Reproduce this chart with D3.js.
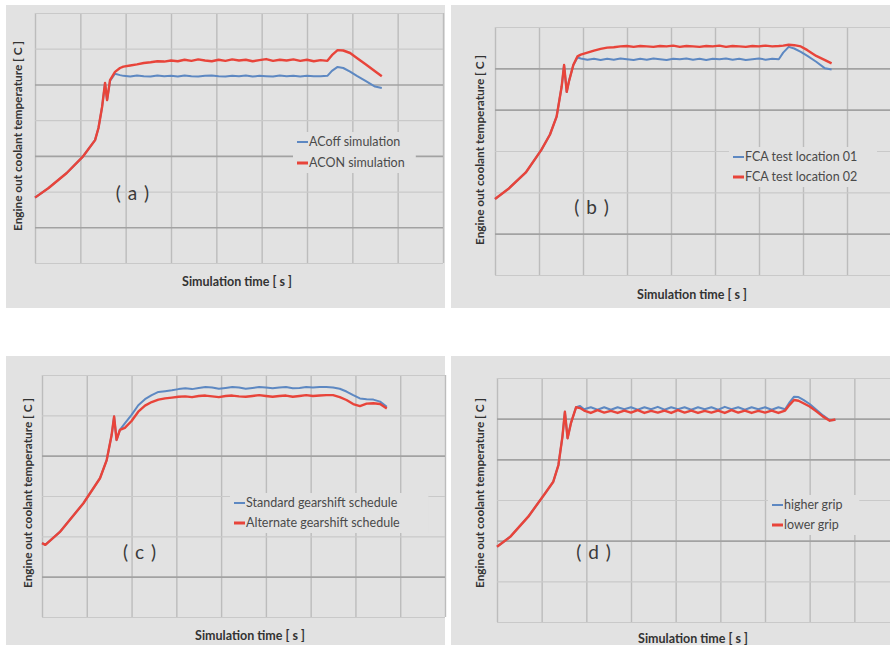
<!DOCTYPE html>
<html>
<head>
<meta charset="utf-8">
<script src="https://cdn.jsdelivr.net/npm/d3@7"></script>
<style>
  body { margin: 0; background: #fff; }
  svg { display: block; font-family: Lato, "Open Sans", sans-serif; }
</style>
</head>
<body>
<svg id="chart"></svg>
<script>
// time axis values [s], one array per panel
const timeA = [0, 60, 140, 210, 265, 280, 296, 309, 318, 331, 353, 375,
  390, 420, 450, 480, 510, 540, 570, 600, 630, 660, 690, 720, 750, 780, 810, 840,
  870, 900, 930, 960, 990, 1020, 1050, 1080, 1110, 1140, 1170, 1200, 1230, 1260, 1290,
  1310, 1335, 1360, 1390, 1420, 1460, 1500, 1530];
const acOff = [48.3, 51.0, 55.2, 59.7, 64.4, 67.8, 73.7, 80.4, 75.6, 81.0, 83.0, 82.6,
  82.4, 82.2, 82.5, 82.3, 82.2, 82.5, 82.3, 82.4, 82.2, 82.5, 82.3, 82.2, 82.4, 82.5, 82.3, 82.2,
  82.4, 82.3, 82.5, 82.2, 82.4, 82.3, 82.2, 82.5, 82.3, 82.4, 82.2, 82.4, 82.3, 82.3, 82.4,
  83.8, 84.9, 84.6, 83.6, 82.4, 80.9, 79.4, 79.0];
const acOn = [48.3, 51.0, 55.2, 59.7, 64.4, 67.8, 73.7, 80.4, 75.6, 81.2, 83.5, 84.6,
  85.0, 85.3, 85.6, 86.0, 86.2, 86.5, 86.4, 86.7, 86.5, 86.9, 86.6, 87.0, 86.7, 86.5, 86.9, 86.6,
  87.0, 86.7, 86.9, 86.5, 86.8, 87.1, 86.6, 86.9, 86.7, 87.0, 86.6, 86.9, 86.5, 86.8, 86.6,
  88.2, 89.6, 89.5, 88.8, 87.4, 85.6, 83.7, 82.3];

const timeB = [0, 60, 140, 210, 250, 280, 303, 314, 326, 336, 356, 375,
  390, 420, 450, 480, 510, 540, 570, 600, 630, 660, 690, 720, 750, 780, 810, 840,
  870, 900, 930, 960, 990, 1020, 1050, 1080, 1110, 1140, 1170, 1200, 1230, 1260, 1290,
  1310, 1335, 1360, 1390, 1420, 1460, 1500, 1530];
const fcaLoc01 = [58.4, 60.8, 64.8, 70.2, 74.0, 78.3, 85.6, 90.8, 84.3, 86.8, 90.8, 92.6,
  92.4, 92.1, 92.3, 92.0, 92.3, 92.1, 92.4, 92.2, 92.0, 92.3, 92.1, 92.4, 92.2, 92.0, 92.3, 92.2,
  92.4, 92.1, 92.3, 92.0, 92.3, 92.2, 92.4, 92.1, 92.3, 92.0, 92.2, 92.4, 92.1, 92.3, 92.2,
  93.8, 95.2, 94.8, 94.0, 93.0, 91.6, 90.0, 89.7];
const fcaLoc02 = [58.4, 60.8, 64.8, 70.2, 74.0, 78.3, 85.6, 90.8, 84.3, 86.8, 90.8, 92.9,
  93.3, 93.8, 94.3, 94.7, 95.0, 95.1, 95.3, 95.4, 95.2, 95.4, 95.3, 95.2, 95.4, 95.3, 95.5, 95.2,
  95.4, 95.3, 95.2, 95.4, 95.3, 95.5, 95.2, 95.4, 95.3, 95.2, 95.4, 95.3, 95.5, 95.3, 95.4,
  95.5, 95.7, 95.6, 95.3, 94.4, 93.0, 92.0, 91.2];

const timeC = [0, 15, 80, 185, 259, 289, 311, 322, 333, 348, 370,
  400, 430, 460, 490, 520, 550, 580, 610, 640, 670, 700, 730, 760, 790, 820, 850,
  880, 910, 940, 970, 1000, 1030, 1060, 1090, 1120, 1150, 1180, 1210, 1240, 1270, 1300,
  1330, 1360, 1390, 1420, 1450, 1480, 1510, 1540];
const stdShift = [58.3, 57.9, 61.1, 68.2, 74.4, 78.9, 85.1, 89.7, 83.9, 86.4, 88.0,
  90.1, 92.5, 94.0, 95.0, 95.8, 96.0, 96.2, 96.5, 96.7, 96.5, 96.8, 97.0, 96.9, 96.6, 96.8, 97.0,
  96.9, 96.6, 96.8, 97.0, 96.9, 96.7, 96.9, 97.0, 96.7, 96.8, 97.0, 96.9, 97.0, 97.0, 96.9,
  96.6, 95.9, 95.0, 94.2, 94.0, 93.9, 93.4, 92.1];
const altShift = [58.3, 57.9, 61.1, 68.2, 74.4, 78.9, 85.1, 89.7, 83.9, 86.4, 86.9,
  88.6, 90.9, 92.4, 93.3, 93.9, 94.2, 94.4, 94.6, 94.7, 94.5, 94.8, 94.9, 94.7, 94.5, 94.8, 94.9,
  94.7, 94.6, 94.8, 95.0, 94.8, 94.6, 94.8, 94.9, 94.6, 94.8, 95.0, 94.8, 94.9, 95.0, 95.0,
  94.5, 93.8, 92.8, 92.3, 92.9, 93.0, 92.8, 91.7];

const timeD = [0, 60, 140, 215, 252, 275, 293, 304, 316, 331, 354, 372,
  390, 420, 450, 480, 510, 540, 570, 600, 630, 660, 690, 720, 750, 780, 810, 840,
  870, 900, 930, 960, 990, 1020, 1050, 1080, 1110, 1140, 1170, 1200, 1230, 1260, 1290,
  1310, 1330, 1350, 1372, 1400, 1430, 1460, 1490, 1515];
const higherGrip = [58.5, 61.0, 65.9, 71.6, 74.5, 78.6, 85.6, 91.7, 85.2, 88.9, 92.8, 93.1,
  92.3, 92.8, 92.2, 92.8, 92.2, 92.8, 92.3, 92.8, 92.2, 92.8, 92.3, 92.9, 92.2, 92.8, 92.3, 92.8,
  92.2, 92.8, 92.3, 92.8, 92.2, 92.9, 92.3, 92.8, 92.2, 92.8, 92.3, 92.8, 92.2, 92.8, 92.3,
  94.0, 95.4, 95.3, 94.6, 93.6, 92.2, 90.8, 89.6, 89.7];
const lowerGrip = [58.5, 61.0, 65.9, 71.6, 74.5, 78.6, 85.6, 91.7, 85.2, 88.9, 92.8, 92.6,
  92.0, 91.4, 92.1, 91.5, 91.9, 91.4, 92.0, 91.5, 92.1, 91.4, 91.9, 91.5, 92.0, 91.4, 92.1, 91.5,
  92.0, 91.4, 91.9, 91.5, 92.0, 91.4, 92.1, 91.5, 92.0, 91.4, 91.9, 91.5, 92.0, 91.4, 92.0,
  93.4, 94.6, 94.4, 93.8, 93.0, 91.8, 90.5, 89.5, 89.8];

const xTicks = [0, 200, 400, 600, 800, 1000, 1200, 1400, 1600, 1800];
const panelLabels = ["( a )", "( b )", "( c )", "( d )"];
const legendA = ["ACoff simulation", "ACON simulation"];
const legendB = ["FCA test location 01", "FCA test location 02"];
const legendC = ["Standard gearshift schedule", "Alternate gearshift schedule"];
const legendD = ["higher grip", "lower grip"];
const yLabelText = "Engine  out coolant temperature [ C ]";
const xLabelText = "Simulation time [ s ]";

const colors = ["#5d88c2", "#e8443a"];
const W = 890, H = 645;

const svg = d3.select("#chart").attr("width", W).attr("height", H);

const panels = [
  { bg: [6, 5, 439, 303], left: 35, right: 443, top: 13, bottom: 263,
    yDomain: [30, 100], yTicks: [30, 40, 50, 60, 70, 80, 90, 100], yMajor: [80, 60, 40],
    time: timeA, series: [acOff, acOn], legend: legendA, label: panelLabels[0],
    yLab: [18, 136], xLab: [237, 286], pLab: [133, 200], leg: [297, 142, 21] },
  { bg: [451, 5, 439, 303], left: 495, right: 891, top: 27, bottom: 275,
    yDomain: [40, 100], yTicks: [40, 50, 60, 70, 80, 90, 100], yMajor: [90, 80, 50],
    time: timeB, series: [fcaLoc01, fcaLoc02], legend: legendB, label: panelLabels[1],
    yLab: [480, 150], xLab: [692, 299], pLab: [592, 214], leg: [733, 157, 20] },
  { bg: [6, 356, 439, 289], left: 42, right: 445, top: 375, bottom: 617,
    yDomain: [40, 100], yTicks: [40, 50, 60, 70, 80, 90, 100], yMajor: [80, 50],
    time: timeC, series: [stdShift, altShift], legend: legendC, label: panelLabels[2],
    yLab: [28, 493], xLab: [250, 640], pLab: [140, 559], leg: [234, 503, 20] },
  { bg: [451, 356, 439, 289], left: 497, right: 899, top: 378, bottom: 622,
    yDomain: [40, 100], yTicks: [40, 50, 60, 70, 80, 90, 100], yMajor: [90, 80, 60],
    time: timeD, series: [higherGrip, lowerGrip], legend: legendD, label: panelLabels[3],
    yLab: [480, 493], xLab: [693, 643], pLab: [594, 559], leg: [772, 505, 20] }
];

panels.forEach((p) => drawPanel(p));

function drawPanel(p) {
  const g = svg.append("g");

  g.append("rect")
    .attr("x", p.bg[0]).attr("y", p.bg[1])
    .attr("width", p.bg[2]).attr("height", p.bg[3])
    .attr("fill", "#e2e2e2");

  const x = d3.scaleLinear().domain([0, 1800]).range([p.left, p.right]);
  const y = d3.scaleLinear().domain(p.yDomain).range([p.bottom, p.top]);

  // vertical grid
  g.append("g")
    .attr("transform", `translate(0,${p.bottom})`)
    .call(d3.axisBottom(x).tickValues(xTicks).tickSize(-(p.bottom - p.top)).tickFormat(""))
    .call((a) => a.select(".domain").remove())
    .call((a) => a.selectAll("line").attr("stroke", "#bcbcbc").attr("stroke-width", 1.4));

  // horizontal grid
  g.append("g")
    .attr("transform", `translate(${p.left},0)`)
    .call(d3.axisLeft(y).tickValues(p.yTicks).tickSize(-(p.right - p.left)).tickFormat(""))
    .call((a) => a.select(".domain").remove())
    .call((a) => a.selectAll("line")
      .attr("stroke", (d) => (p.yMajor.includes(d) ? "#a2a2a2" : "#c9c9c9"))
      .attr("stroke-width", (d) => (p.yMajor.includes(d) ? 1.6 : 1.2)));

  // legend box hides the grid behind it
  g.append("rect")
    .attr("x", p.leg[0] - 4).attr("y", p.leg[1] - 10)
    .attr("width", d3.max(p.legend, (s) => s.length) * 6.3 + 22)
    .attr("height", p.leg[2] + 20)
    .attr("fill", "#e2e2e2");

  const line = d3.line()
    .x((d, i) => x(p.time[i]))
    .y((d) => y(d));

  p.series.forEach((s, i) => {
    g.append("path")
      .datum(s)
      .attr("d", line)
      .attr("fill", "none")
      .attr("stroke", colors[i])
      .attr("stroke-width", i === 1 ? 2.4 : 2)
      .attr("stroke-linejoin", "round");
  });

  // legend
  p.legend.forEach((name, i) => {
    const ly = p.leg[1] + i * p.leg[2];
    g.append("line")
      .attr("x1", p.leg[0]).attr("x2", p.leg[0] + 11)
      .attr("y1", ly).attr("y2", ly)
      .attr("stroke", colors[i])
      .attr("stroke-width", i === 1 ? 3 : 2);
    g.append("text")
      .attr("x", p.leg[0] + 12).attr("y", ly + 4)
      .attr("font-size", "12.5px")
      .attr("fill", "#4a4a4a")
      .text(name);
  });

  g.append("text")
    .attr("x", p.pLab[0]).attr("y", p.pLab[1])
    .attr("text-anchor", "middle")
    .attr("font-size", "19px")
    .attr("letter-spacing", "1px")
    .attr("fill", "#3a3a3a")
    .text(p.label);

  g.append("text")
    .attr("transform", `translate(${p.yLab[0] + 4},${p.yLab[1]}) rotate(-90)`)
    .attr("text-anchor", "middle")
    .attr("font-size", "11.8px")
    .attr("font-weight", "bold")
    .attr("fill", "#333")
    .text(yLabelText);

  g.append("text")
    .attr("x", p.xLab[0]).attr("y", p.xLab[1])
    .attr("text-anchor", "middle")
    .attr("font-size", "12.5px")
    .attr("font-weight", "bold")
    .attr("fill", "#333")
    .text(xLabelText);
}
</script>
</body>
</html>
